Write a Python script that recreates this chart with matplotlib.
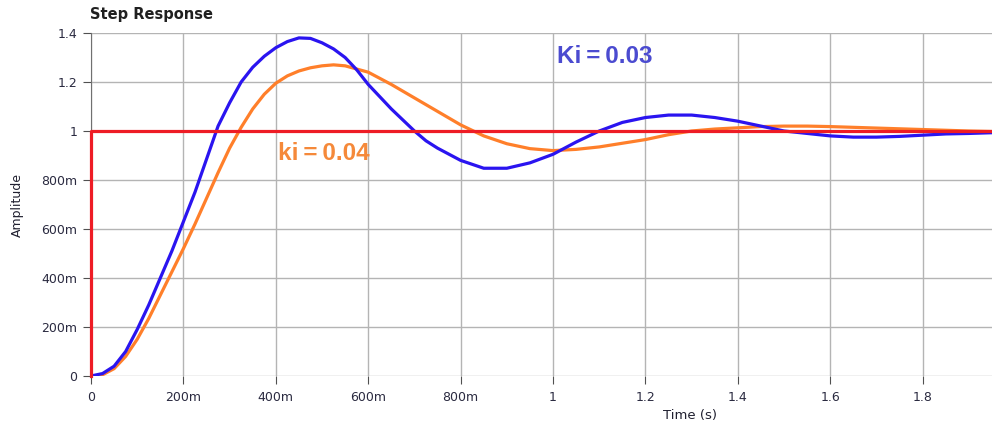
import matplotlib
matplotlib.use('AGG')

import matplotlib.pyplot as plt
import numpy as np

# step response, Ki = 0.03 (blue)
t_blue = [0, 0.025, 0.05, 0.075, 0.1, 0.125, 0.15, 0.175, 0.2, 0.225, 0.25,
          0.275, 0.3, 0.325, 0.35, 0.375, 0.4, 0.425, 0.45, 0.475, 0.5, 0.525,
          0.55, 0.575, 0.6, 0.625, 0.65, 0.675, 0.7, 0.725, 0.75, 0.8, 0.85,
          0.9, 0.95, 1.0, 1.05, 1.1, 1.15, 1.2, 1.25, 1.3, 1.35, 1.4, 1.45,
          1.5, 1.55, 1.6, 1.65, 1.7, 1.75, 1.8, 1.85, 1.9, 1.95]
y_blue = [0.0, 0.01, 0.04, 0.10, 0.19, 0.29, 0.40, 0.51, 0.63, 0.75, 0.885,
          1.02, 1.115, 1.20, 1.26, 1.305, 1.34, 1.365, 1.38, 1.378, 1.36,
          1.335, 1.30, 1.25, 1.19, 1.14, 1.09, 1.045, 1.00, 0.96, 0.93, 0.88,
          0.848, 0.848, 0.87, 0.905, 0.955, 1.00, 1.035, 1.055, 1.065, 1.065,
          1.055, 1.04, 1.02, 1.00, 0.99, 0.98, 0.975, 0.975, 0.978, 0.983,
          0.988, 0.99, 0.993]

# step response, ki = 0.04 (orange)
t_orange = [0, 0.025, 0.05, 0.075, 0.1, 0.125, 0.15, 0.175, 0.2, 0.225,
            0.25, 0.275, 0.3, 0.325, 0.35, 0.375, 0.4, 0.425, 0.45, 0.475,
            0.5, 0.525, 0.55, 0.6, 0.65, 0.7, 0.75, 0.8, 0.85, 0.9, 0.95,
            1.0, 1.05, 1.1, 1.15, 1.2, 1.25, 1.3, 1.35, 1.4, 1.45, 1.5, 1.55,
            1.6, 1.65, 1.7, 1.75, 1.8, 1.85, 1.9, 1.95]
y_orange = [0.0, 0.005, 0.03, 0.08, 0.15, 0.235, 0.33, 0.425, 0.52, 0.62,
            0.725, 0.83, 0.93, 1.015, 1.09, 1.15, 1.195, 1.225, 1.245, 1.258,
            1.266, 1.27, 1.266, 1.24, 1.19, 1.135, 1.08, 1.025, 0.98, 0.948,
            0.928, 0.92, 0.925, 0.935, 0.95, 0.965, 0.985, 1.0, 1.008, 1.013,
            1.018, 1.02, 1.02, 1.018, 1.015, 1.012, 1.009, 1.006, 1.003,
            1.0, 0.998]

# unit step input
t_step = [0, 0, 1.95]
y_step = [0, 1, 1]

x_ticks = [0, 0.2, 0.4, 0.6, 0.8, 1.0, 1.2, 1.4, 1.6, 1.8]
x_labels = ['0', '200m', '400m', '600m', '800m', '1', '1.2', '1.4', '1.6', '1.8']
y_ticks = [0, 0.2, 0.4, 0.6, 0.8, 1.0, 1.2, 1.4]
y_labels = ['0', '200m', '400m', '600m', '800m', '1', '1.2', '1.4']

plt.rcParams['font.family'] = ['DejaVu Sans']

fig = plt.figure(figsize=(9.92, 4.25), dpi=100)
ax = fig.add_axes([91 / 992, 1 - 376 / 425, 1 - 91 / 992, 343 / 425])

ax.plot(t_orange, y_orange, color='#ff7f2a', lw=2.3, zorder=3)
ax.plot(t_blue, y_blue, color='#2a14f0', lw=2.3, zorder=4)
ax.plot(t_step, y_step, color='#ee1c25', lw=2.3, zorder=5, clip_on=False)

ax.set_xlim(0, 1.95)
ax.set_ylim(0, 1.4)
ax.set_xticks(x_ticks)
ax.set_xticklabels(x_labels)
ax.set_yticks(y_ticks)
ax.set_yticklabels(y_labels)
ax.grid(True, color='#b4b4b4', lw=1)
ax.set_axisbelow(True)

for side in ['top', 'right', 'bottom']:
    ax.spines[side].set_visible(False)
ax.spines['left'].set_color('#707070')
ax.tick_params(axis='both', labelsize=9, colors='#505050', labelcolor='#2a2a40',
               length=6, direction='out')
ax.tick_params(axis='x', pad=5)
ax.tick_params(axis='y', pad=4)

ax.set_xlabel('Time (s)', fontsize=9.5, color='#202030')
ax.xaxis.set_label_coords((690 - 91) / 901, -0.095)
ax.set_ylabel('Amplitude', fontsize=9, color='#202030')
ax.yaxis.set_label_coords((24 - 91) / 901, 0.5)

fig.text(90 / 992, 1 - 15 / 425, 'Step Response', fontsize=10.5,
         fontweight='bold', color='#202020', va='center', ha='left')

ax.text(1.009, 1.306, 'Ki\u2009=\u20090.03', fontsize=17.5, fontweight='bold',
        color='#4b4bd0', family=['Liberation Sans', 'DejaVu Sans'], va='center')
ax.text(0.405, 0.91, 'ki\u2009=\u20090.04', fontsize=17.5, fontweight='bold',
        color='#f5893a', family=['Liberation Sans', 'DejaVu Sans'], va='center')

fig.savefig('out.png', dpi=100)
plt.close()
